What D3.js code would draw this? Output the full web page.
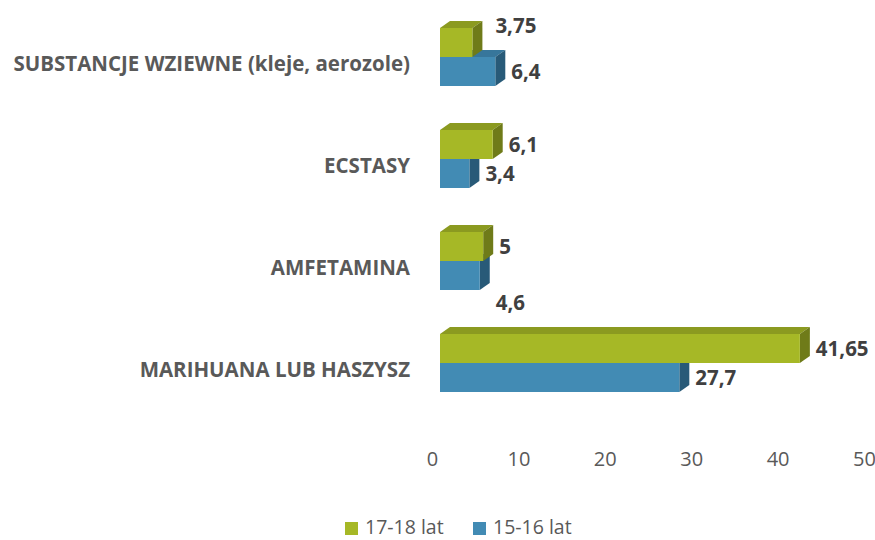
<!DOCTYPE html>
<html><head><meta charset="utf-8">
<script src="https://cdn.jsdelivr.net/npm/d3@7"></script>
<style>body{margin:0;background:#fff}svg{display:block}</style>
</head><body>
<svg id="c" width="875" height="540"></svg>
<script>
const categories = ["SUBSTANCJE WZIEWNE (kleje, aerozole)", "ECSTASY", "AMFETAMINA", "MARIHUANA LUB HASZYSZ"];
const seriesNames = ["17-18 lat", "15-16 lat"];
const values1718 = [3.75, 6.1, 5, 41.65];
const values1516 = [6.4, 3.4, 4.6, 27.7];
const labels1718 = ["3,75", "6,1", "5", "41,65"];
const labels1516 = ["6,4", "3,4", "4,6", "27,7"];
const tickValues = [0, 10, 20, 30, 40, 50];
// label collision nudges as Excel placed them: [dx, dy] in px
const nudge1718 = [[7, -17], [0, 0], [0, 0], [0, 0]];
const nudge1516 = [[0, 0], [0, 0], [0, 27], [0, 0]];

const svg = d3.select("#c");
const font = "'Open Sans', sans-serif";
const x = d3.scaleLinear().domain([0, 50]).range([440, 872]);
const y = d3.scaleBand().domain(categories).range([6, 414]).padding(0);
const barH = 29, dx = 10, dy = 7;

const colors = {
  g: {front: "#a6b826", top: "#8b9a20", side: "#6f7b19"},
  b: {front: "#428bb4", top: "#37769b", side: "#285a78"}
};

function bar(g, x0, x1, y0, h, c) {
  g.append("path").attr("fill", c.top)
    .attr("d", `M${x0},${y0}L${x0+dx},${y0-dy}L${x1+dx},${y0-dy}L${x1},${y0}Z`);
  g.append("path").attr("fill", c.side)
    .attr("d", `M${x1},${y0}L${x1+dx},${y0-dy}L${x1+dx},${y0+h-dy}L${x1},${y0+h}Z`);
  g.append("rect").attr("fill", c.front).attr("x", x0).attr("y", y0).attr("width", x1 - x0).attr("height", h);
}

const bars = svg.append("g");
categories.forEach((cat, i) => {
  const cy = y(cat) + y.bandwidth() / 2;
  bar(bars, x(0), x(values1516[i]), cy, barH, colors.b);
  bar(bars, x(0), x(values1718[i]), cy - barH, barH, colors.g);
});

// value labels
const lab = svg.append("g").attr("font-family", font).attr("font-weight", "bold")
  .attr("font-size", 20.5).attr("fill", "#404040");
categories.forEach((cat, i) => {
  const cy = y(cat) + y.bandwidth() / 2;
  lab.append("text").attr("x", x(values1718[i]) + dx + 6 + nudge1718[i][0])
    .attr("y", cy - barH / 2 + nudge1718[i][1]).attr("dy", "0.35em").text(labels1718[i]);
  lab.append("text").attr("x", x(values1516[i]) + dx + 6 + nudge1516[i][0])
    .attr("y", cy + barH / 2 + nudge1516[i][1]).attr("dy", "0.35em").text(labels1516[i]);
});

// category labels
const cl = svg.append("g").attr("font-family", font).attr("font-weight", "bold")
  .attr("font-size", 20.5).attr("fill", "#595959").attr("text-anchor", "end");
categories.forEach(cat => {
  cl.append("text").attr("x", 410).attr("y", y(cat) + y.bandwidth() / 2 + 7).attr("dy", "0.35em").text(cat);
});

// x axis
const ax = svg.append("g").attr("transform", "translate(-8,452)")
  .call(d3.axisBottom(x).tickValues(tickValues).tickSize(0).tickPadding(0).tickFormat(d3.format("d")));
ax.select(".domain").remove();
ax.selectAll("text").attr("font-family", font).attr("font-size", 20).attr("fill", "#595959");

// legend
const leg = svg.append("g").attr("font-family", font).attr("font-size", 19.5).attr("fill", "#595959");
const legItems = [{name: seriesNames[0], c: colors.g.front, x: 345}, {name: seriesNames[1], c: colors.b.front, x: 473}];
legItems.forEach(d => {
  leg.append("rect").attr("x", d.x).attr("y", 522).attr("width", 13).attr("height", 13).attr("fill", d.c);
  leg.append("text").attr("x", d.x + 20).attr("y", 534).text(d.name);
});
</script>
</body></html>
